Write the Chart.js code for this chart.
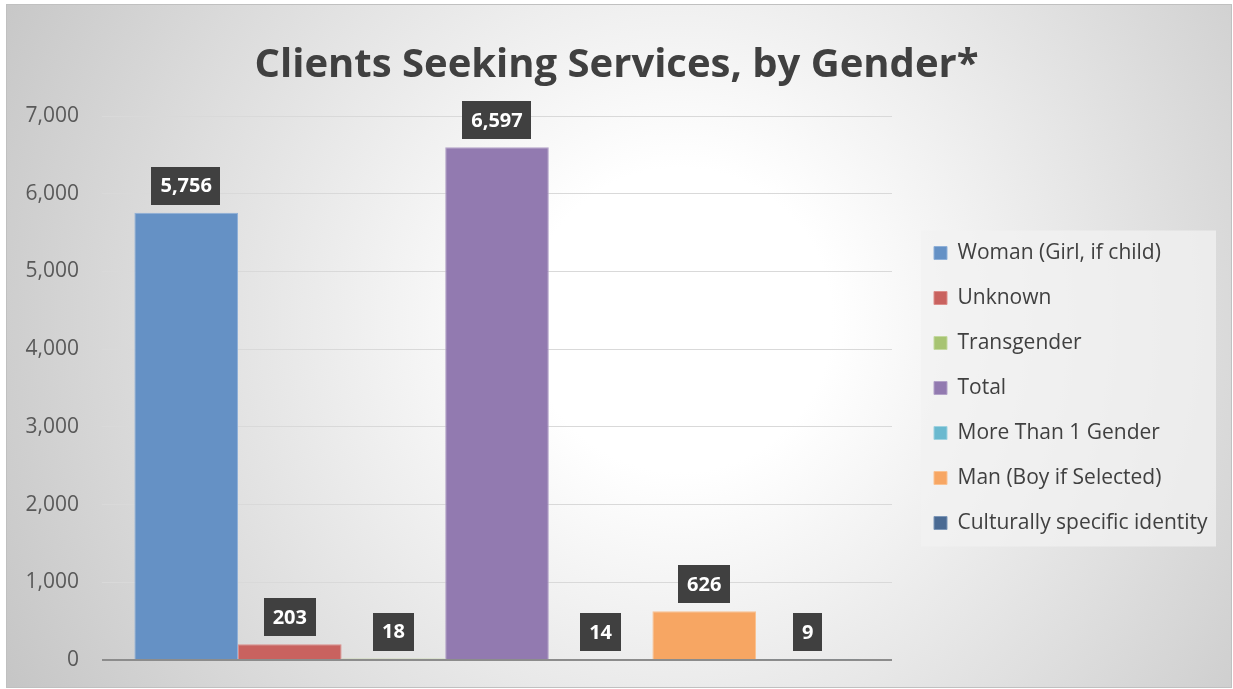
<!DOCTYPE html>
<html>
<head>
<meta charset="utf-8">
<script src="https://cdn.jsdelivr.net/npm/chart.js@4.4.1/dist/chart.umd.min.js"></script>
<style>
  html, body { margin: 0; padding: 0; background: #ffffff; }
  #wrap { width: 1233px; height: 689px; position: relative; }
</style>
</head>
<body>
<div id="wrap"><canvas id="c" width="1233" height="689"></canvas></div>
<script>
const titleText = 'Clients Seeking Services, by Gender*';
const categories = [''];
const seriesNames = ['Woman (Girl, if child)', 'Unknown', 'Transgender', 'Total', 'More Than 1 Gender', 'Man (Boy if Selected)', 'Culturally specific identity'];
const seriesValues = [5756, 203, 18, 6597, 14, 626, 9];
const seriesColors = ['#6591c5', '#c9625f', '#a7c472', '#927ab0', '#6ab9cf', '#f7a663', '#4a6a93'];
const seriesBorders = ['#8fb0d8', '#dc8e8b', '#c4d9a0', '#b3a2c8', '#9fd2e0', '#fac292', '#7d97b8'];
const yTicks = [0, 1000, 2000, 3000, 4000, 5000, 6000, 7000];

const FONT = '"Open Sans", "DejaVu Sans", sans-serif';
const LEGEND_SIZE = 21;
const LEGEND_PAD = 24;
const SPACER = 18;
const PLOT_RIGHT = 892;

const mctx = document.createElement('canvas').getContext('2d');
mctx.font = LEGEND_SIZE + 'px ' + FONT;
const maxLegendText = Math.max(...seriesNames.map(s => mctx.measureText(s).width));
const legendWidth = LEGEND_PAD + 13 + LEGEND_SIZE / 2 + maxLegendText + 10;
const rightPad = Math.max(0, 1233 - PLOT_RIGHT - SPACER - legendWidth);

const bgPlugin = {
  id: 'bg',
  afterLayout(chart) {
    const tb = chart.titleBlock;
    if (tb) { tb.left = 0; tb.right = 1233; tb.width = 1233; }
  },
  beforeDraw(chart) {
    const ctx = chart.ctx;
    ctx.save();
    const x0 = 6, y0 = 4, x1 = 1232, y1 = 688;
    const g = ctx.createRadialGradient(680, 320, 0, 680, 320, 760);
    g.addColorStop(0, '#ffffff');
    g.addColorStop(0.2, '#ffffff');
    g.addColorStop(1, '#c6c6c6');
    ctx.fillStyle = g;
    ctx.fillRect(x0, y0, x1 - x0, y1 - y0);
    ctx.strokeStyle = '#c0c0c0';
    ctx.lineWidth = 1;
    ctx.strokeRect(x0 + 0.5, y0 + 0.5, x1 - x0 - 1, y1 - y0 - 1);
    const lg = chart.legend;
    if (lg && lg.legendHitBoxes && lg.legendHitBoxes.length) {
      const hb = lg.legendHitBoxes;
      let l = Infinity, t = Infinity, b = -Infinity;
      hb.forEach(h => { l = Math.min(l, h.left); t = Math.min(t, h.top); b = Math.max(b, h.top + h.height); });
      ctx.fillStyle = 'rgba(242,242,242,0.75)';
      ctx.fillRect(l - 13, t - 12, 295, b - t + 25);
    }
    ctx.restore();
  }
};

const labelPlugin = {
  id: 'valueLabels',
  afterDatasetsDraw(chart) {
    const ctx = chart.ctx;
    ctx.save();
    ctx.font = 'bold 20px ' + FONT;
    ctx.textAlign = 'center';
    ctx.textBaseline = 'middle';
    chart.data.datasets.forEach((ds, i) => {
      const meta = chart.getDatasetMeta(i);
      meta.data.forEach((el, j) => {
        const v = ds.data[j];
        const txt = v.toLocaleString('en-US');
        const w = ctx.measureText(txt).width + 18;
        const h = 38;
        const bottom = el.y - 8;
        ctx.fillStyle = '#404040';
        ctx.fillRect(Math.round(el.x - w / 2), Math.round(bottom - h), Math.round(w), h);
        ctx.fillStyle = '#ffffff';
        ctx.fillText(txt, el.x, bottom - h / 2 + 1);
      });
    });
    ctx.restore();
  }
};

const datasets = seriesNames.map((name, i) => ({
  label: name,
  data: [seriesValues[i]],
  backgroundColor: seriesColors[i],
  borderColor: seriesBorders[i],
  borderWidth: 1,
  barPercentage: 1.0,
  categoryPercentage: 0.918
}));

new Chart(document.getElementById('c'), {
  type: 'bar',
  data: { labels: categories, datasets },
  plugins: [bgPlugin, labelPlugin],
  options: {
    responsive: false,
    animation: false,
    devicePixelRatio: 1,
    layout: { padding: { left: 0, right: rightPad, top: 0, bottom: 29 } },
    plugins: {
      tooltip: { enabled: false },
      title: {
        display: true,
        text: titleText,
        color: '#404040',
        font: { family: FONT, size: 40, weight: 'bold', lineHeight: 1.2 },
        padding: { top: 42, bottom: 26 }
      },
      legend: {
        position: 'right',
        align: 'center',
        fullSize: false,
        maxWidth: 400,
        labels: {
          color: '#404040',
          font: { family: FONT, size: LEGEND_SIZE },
          boxWidth: 13,
          boxHeight: 13,
          padding: LEGEND_PAD
        }
      }
    },
    scales: {
      x: {
        display: false
      },
      y: {
        min: 0,
        max: 7000,
        afterBuildTicks(scale) { scale.ticks = yTicks.map(v => ({ value: v })); },
        afterFit(scale) { scale.width = 102; },
        ticks: {
          color: '#595959',
          padding: 0,
          font: { family: FONT, size: 21 },
          callback: v => v.toLocaleString('en-US')
        },
        grid: {
          drawTicks: true,
          tickLength: 23,
          tickColor: 'rgba(0,0,0,0)',
          color: ctx => (ctx.tick && ctx.tick.value === 0) ? '#8c8c8c' : '#d9d9d9',
          lineWidth: ctx => (ctx.tick && ctx.tick.value === 0) ? 2 : 1
        },
        border: { display: false }
      },
      spacer: {
        position: 'right',
        display: true,
        ticks: { display: false },
        grid: { display: false },
        border: { display: false },
        afterFit(scale) { scale.width = SPACER; }
      }
    }
  }
});
</script>
</body>
</html>
